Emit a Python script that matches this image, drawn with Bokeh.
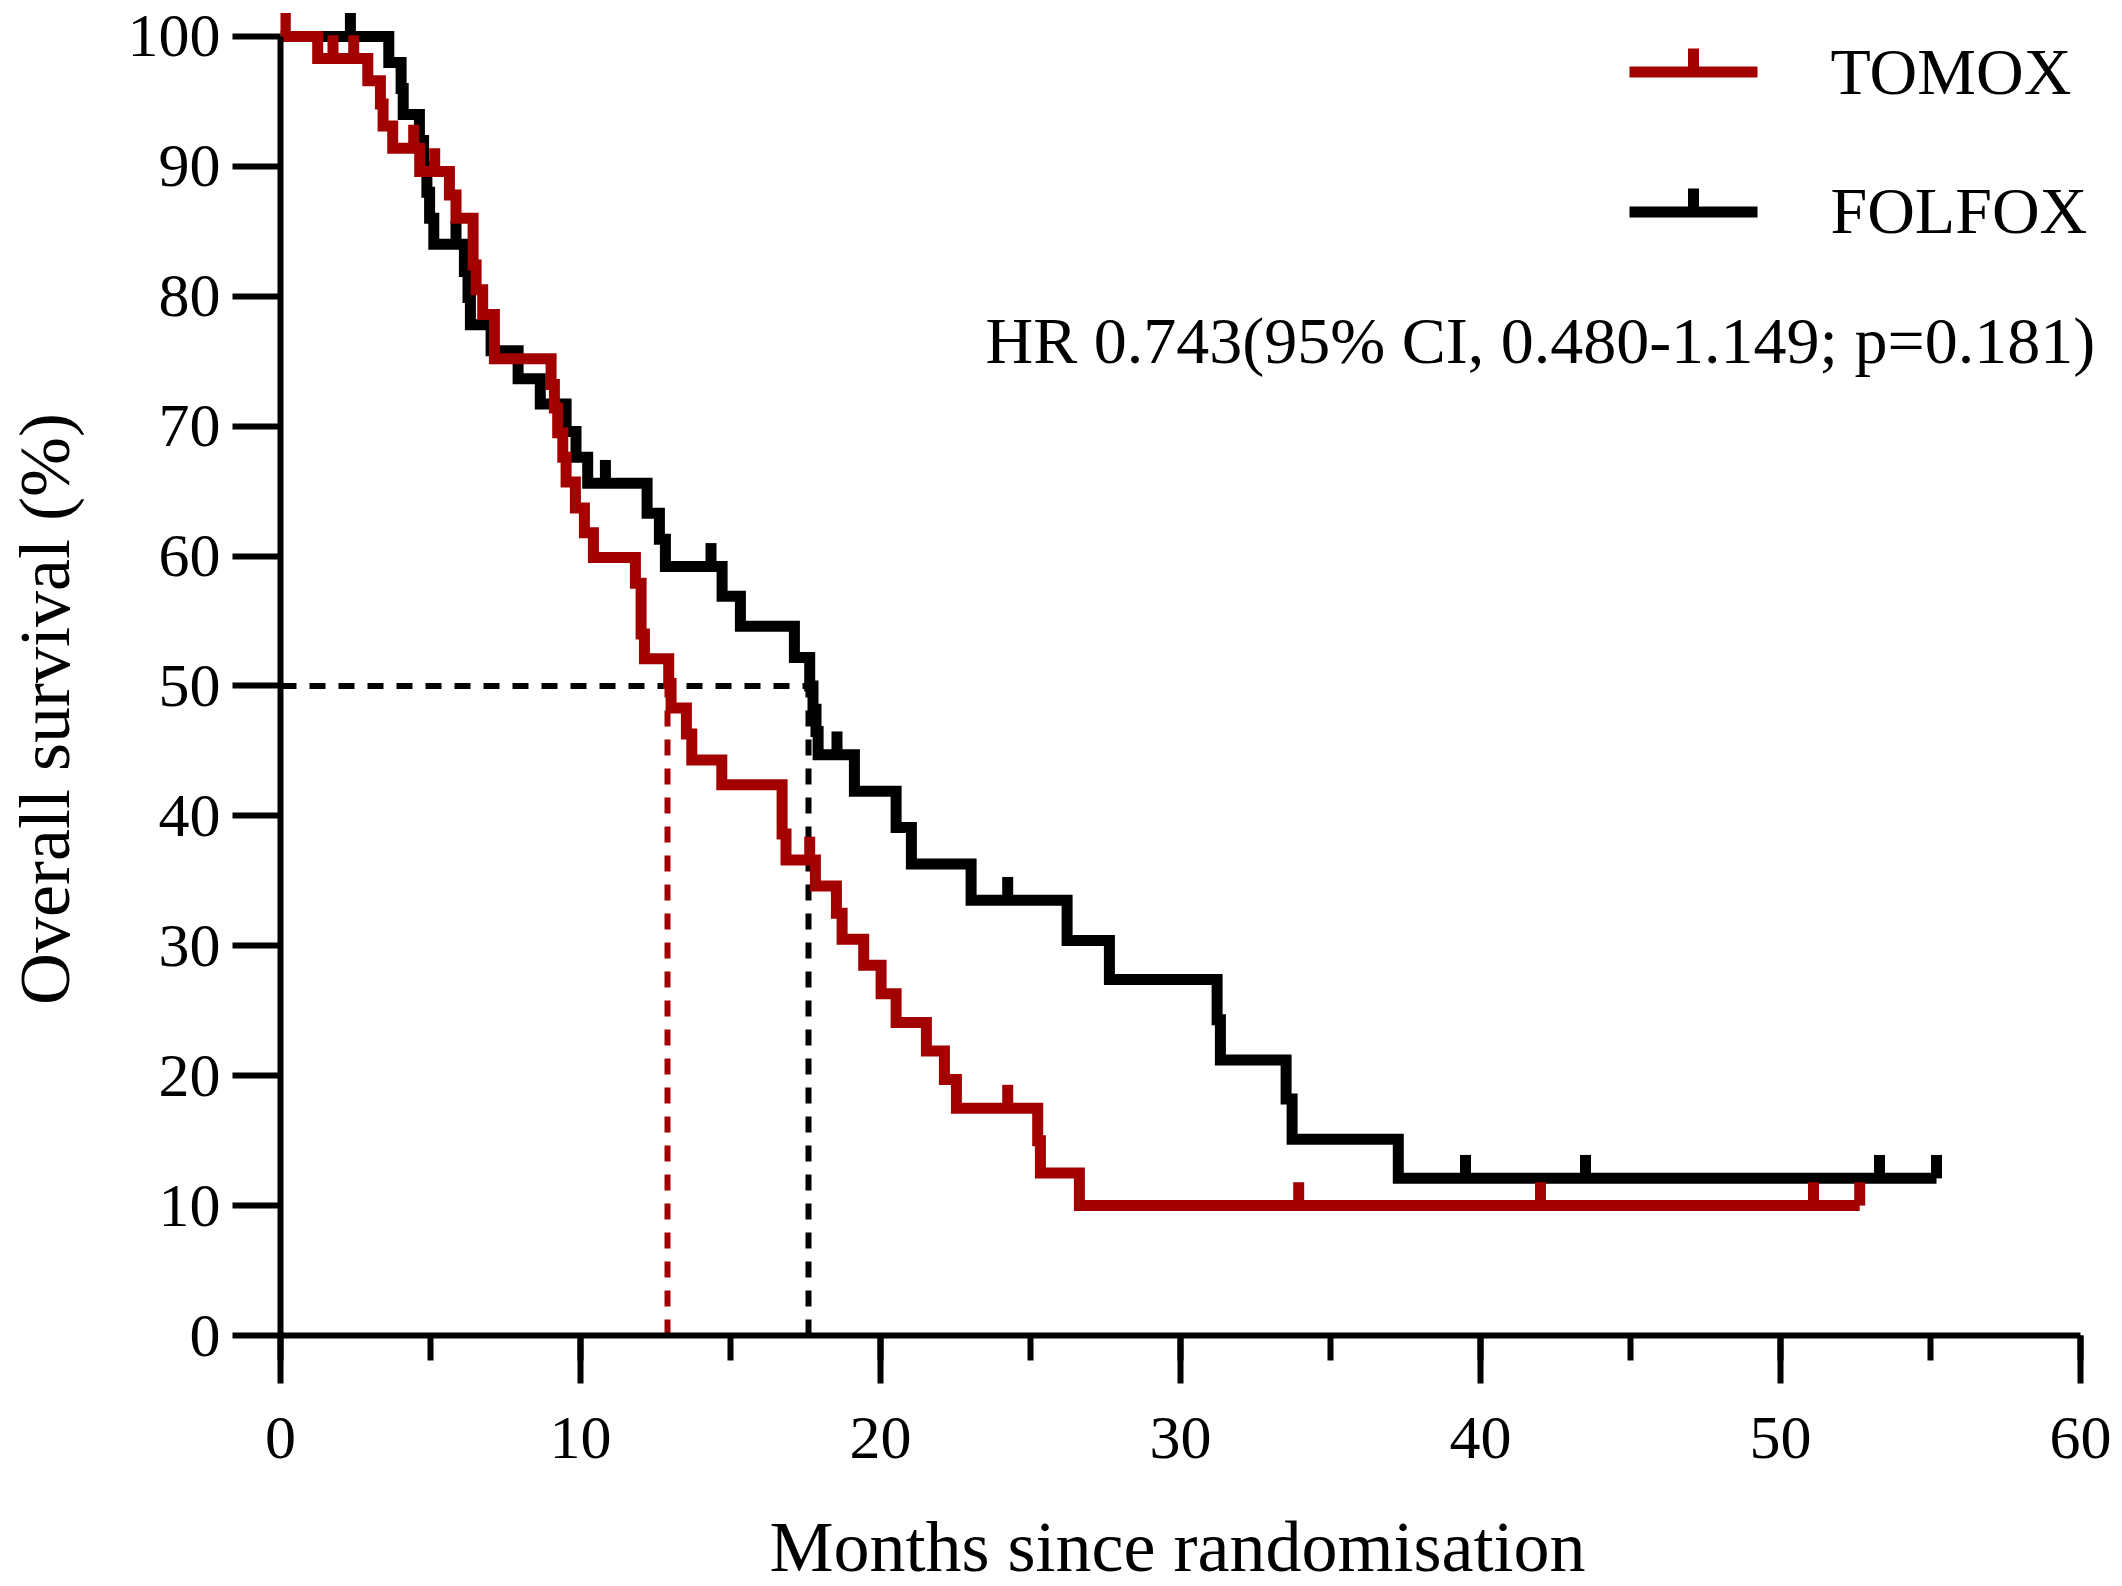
import numpy as np
from bokeh.plotting import figure
from bokeh.models import Range1d, SingleIntervalTicker, Label, BoxAnnotation
from bokeh.embed import file_html
from bokeh.resources import INLINE

# ---------------- data ----------------
tomox_times = [1.24, 2.91, 3.33, 3.42, 3.74, 4.64, 5.63, 5.85, 6.42, 6.52,
               6.74, 7.13, 9.02, 9.13, 9.24, 9.41, 9.52, 9.83, 10.13, 10.43,
               11.83, 12.02, 12.13, 12.94, 13.02, 13.53, 13.71, 14.71, 16.72, 16.85,
               17.83, 18.53, 18.72, 19.44, 20.02, 20.52, 21.53, 22.13, 22.53, 25.24,
               25.33, 26.63]
tomox_surv = [98.3, 96.6, 94.8, 93.1, 91.4, 89.6, 87.8, 86.0, 82.4, 80.5,
              78.6, 75.2, 73.2, 71.4, 69.5, 67.6, 65.7, 63.7, 61.8, 59.9,
              57.9, 54.0, 52.1, 50.2, 48.3, 46.3, 44.3, 42.4, 38.6, 36.6,
              34.6, 32.5, 30.5, 28.5, 26.3, 24.1, 21.9, 19.7, 17.5, 15.0,
              12.5, 10.0]
tomox_censor = [0.16, 1.75, 2.44, 4.44, 5.14, 17.64, 24.24, 33.94, 42.0, 51.1, 52.64]

folfox_times = [3.61, 4.02, 4.09, 4.63, 4.77, 4.88, 4.97, 5.11, 6.13, 6.25,
                6.33, 7.02, 7.92, 8.66, 9.52, 9.85, 10.24, 12.22, 12.63, 12.83,
                14.72, 15.33, 17.13, 17.64, 17.75, 17.85, 17.92, 19.13, 20.52, 21.03,
                23.02, 26.22, 27.63, 31.22, 31.33, 33.52, 33.72, 37.26]
folfox_surv = [98.0, 96.0, 94.0, 92.0, 90.0, 88.0, 86.0, 84.0, 81.9, 79.9,
               77.8, 75.8, 73.65, 71.7, 69.6, 67.6, 65.6, 63.3, 61.3, 59.2,
               56.9, 54.6, 52.2, 50.0, 48.2, 46.5, 44.7, 41.9, 39.1, 36.3,
               33.5, 30.4, 27.4, 24.3, 21.2, 18.2, 15.1, 12.1]
folfox_censor = [2.33, 5.85, 10.83, 14.35, 18.55, 24.24, 39.5, 43.5, 53.3, 55.2]

median_tomox = 12.9
median_folfox = 17.6
median_level = 50

series_names = ["TOMOX", "FOLFOX"]
hr_text = "HR 0.743(95% CI, 0.480-1.149; p=0.181)"
x_title = "Months since randomisation"
y_title = "Overall survival (%)"

# ---------------- styles ----------------
RED = "#A30000"
BLACK = "#000000"
FONT = "Liberation Serif"
CURVE_W = 11
TICK_H = 1.8   # censor tick height in % units
NBSP = "\u00a0"


def step_xy(times, surv, censor):
    xs = [0.0] + list(times) + [max(censor)]
    ys = [100.0] + list(surv) + [surv[-1]]
    return xs, ys


def censor_levels(times, surv, censor):
    t = np.asarray(times)
    s = np.concatenate([[100.0], np.asarray(surv)])
    idx = np.searchsorted(t, np.asarray(censor), side="right")
    return s[idx]


p = figure(frame_width=1830, frame_height=1325,
           x_range=Range1d(0, 61), y_range=Range1d(0, 102),
           output_backend="svg", toolbar_location=None,
           min_border_left=280, min_border_right=4,
           min_border_top=10, min_border_bottom=234)

p.xgrid.visible = False
p.ygrid.visible = False
p.outline_line_color = None
p.background_fill_color = "white"
p.border_fill_color = "white"

p.xaxis.ticker = SingleIntervalTicker(interval=10, num_minor_ticks=2)
p.yaxis.ticker = SingleIntervalTicker(interval=10, num_minor_ticks=0)
p.yaxis.bounds = (0, 100)
p.xaxis.bounds = (0, 60)

for ax in (p.xaxis[0], p.yaxis[0]):
    ax.axis_line_width = 6
    ax.axis_line_color = BLACK
    ax.major_tick_line_width = 6
    ax.major_tick_line_color = BLACK
    ax.major_tick_out = 48
    ax.major_tick_in = 0
    ax.minor_tick_line_width = 6
    ax.minor_tick_line_color = BLACK
    ax.minor_tick_out = 25
    ax.minor_tick_in = 0
    ax.major_label_text_font = FONT
    ax.major_label_text_font_size = "62px"
    ax.major_label_text_color = BLACK
    ax.axis_label_text_font = FONT
    ax.axis_label_text_font_size = "72px"
    ax.axis_label_text_font_style = "normal"
    ax.axis_label_text_color = BLACK

p.yaxis.minor_tick_line_color = None
p.xaxis.axis_label = x_title + NBSP * 2
p.yaxis.axis_label = y_title + NBSP * 4
p.xaxis.major_label_standoff = 34
p.yaxis.major_label_standoff = 12
p.xaxis.axis_label_standoff = 46
p.yaxis.axis_label_standoff = 40

# median reference lines
p.segment(x0=[0, median_folfox, median_tomox],
          y0=[median_level, 0, 0],
          x1=[median_folfox, median_folfox, median_tomox],
          y1=[median_level, median_level, median_level],
          line_color=[BLACK, BLACK, RED], line_width=6, line_dash="16 13")

# curves (FOLFOX below, TOMOX on top)
for times, surv, cens, col in ((folfox_times, folfox_surv, folfox_censor, BLACK),
                               (tomox_times, tomox_surv, tomox_censor, RED)):
    xs, ys = step_xy(times, surv, cens)
    p.step(xs, ys, mode="after", line_color=col, line_width=CURVE_W,
           line_join="miter", line_cap="butt")
    cy = censor_levels(times, surv, cens)
    p.segment(x0=cens, y0=cy, x1=cens, y1=cy + TICK_H,
              line_color=col, line_width=CURVE_W, line_cap="butt")

# legend (screen units, relative to frame left / bottom)
legend_rows = [(series_names[0], RED, 1263.5, 1264), (series_names[1], BLACK, 1123.5, 1125)]
for name, col, yc, ybase in legend_rows:
    p.add_layout(BoxAnnotation(left=1349, right=1477, bottom=yc - 5.5, top=yc + 5.5,
                               left_units="screen", right_units="screen",
                               bottom_units="screen", top_units="screen",
                               fill_color=col, fill_alpha=1.0, line_color=None))
    p.add_layout(BoxAnnotation(left=1407.5, right=1418.5, bottom=yc, top=yc + 23.5,
                               left_units="screen", right_units="screen",
                               bottom_units="screen", top_units="screen",
                               fill_color=col, fill_alpha=1.0, line_color=None))
    p.add_layout(Label(x=1550, y=ybase, x_units="screen", y_units="screen",
                       text=name, text_font=FONT, text_font_size="66px",
                       text_color=BLACK, text_align="left", text_baseline="alphabetic"))

p.add_layout(Label(x=705, y=995, x_units="screen", y_units="screen",
                   text=hr_text, text_font=FONT, text_font_size="66px",
                   text_color=BLACK, text_align="left", text_baseline="alphabetic"))

open("out.html", "w").write(file_html(p, INLINE))
